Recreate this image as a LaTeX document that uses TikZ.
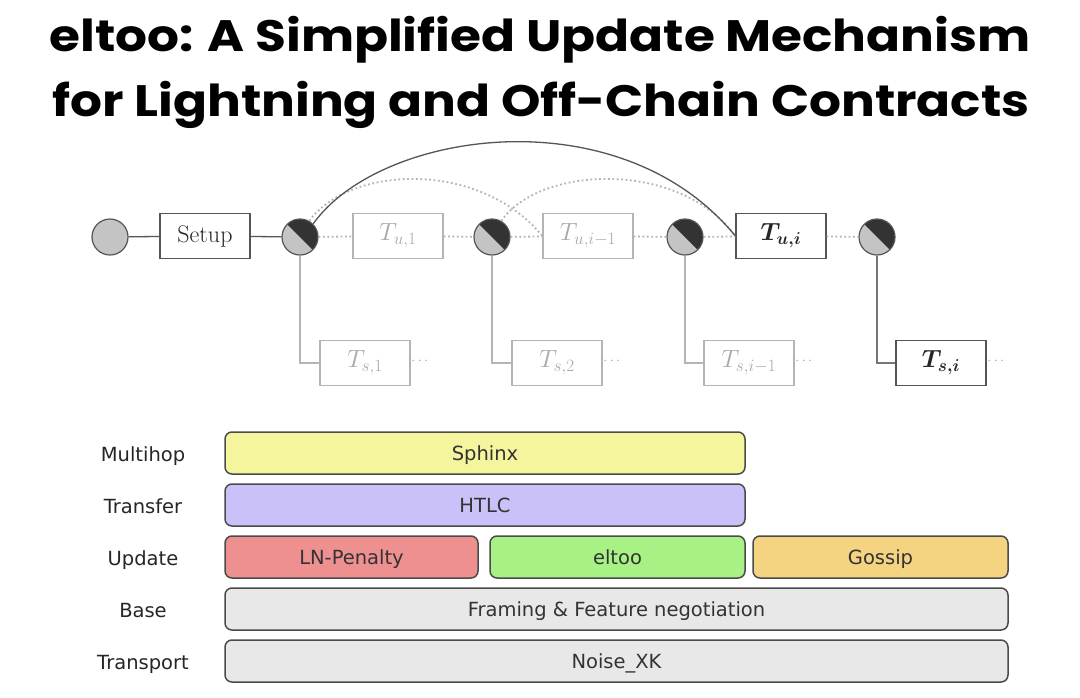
\documentclass[tikz,border=0pt]{standalone}
\usepackage{amsmath}
\usepackage{fontspec}
\newfontfamily\titlefont{Poppins}[UprightFont=* Bold, FakeStretch=1.14]
\newfontfamily\layerfont{DejaVu Sans}
\definecolor{lightline}{HTML}{B4B4B4}
\definecolor{lighttext}{HTML}{A8A8A8}
\definecolor{darkline}{HTML}{555555}
\definecolor{circfill}{HTML}{C4C4C4}
\definecolor{circdark}{HTML}{333333}
\definecolor{cyellow}{HTML}{F4F59C}
\definecolor{cviolet}{HTML}{C9C1F7}
\definecolor{cred}{HTML}{EE9090}
\definecolor{cgreen}{HTML}{A8F285}
\definecolor{corange}{HTML}{F4D381}
\definecolor{cgray}{HTML}{E8E8E8}
\definecolor{layerborder}{HTML}{4A4A4A}
\definecolor{layertext}{HTML}{333333}
\begin{document}
\begin{tikzpicture}[x=1pt,y=-1pt,
  txbox/.style={draw=darkline, line width=1.3pt, minimum width=90pt, minimum height=45pt, inner sep=0pt, font=\fontsize{24}{28}\selectfont, text=black!85},
  txlight/.style={txbox, draw=lightline, text=lighttext},
  plaincirc/.style={circle, draw=darkline, line width=1.2pt, fill=circfill, minimum size=36pt, inner sep=0pt},
  splitcirc/.style={plaincirc, path picture={\fill[circdark] (path picture bounding box.north west) -- (path picture bounding box.north east) -- (path picture bounding box.south east) -- cycle;}},
  solidcon/.style={draw=darkline, line width=1.3pt},
  lightcon/.style={draw=lightline, line width=1.3pt},
  dotcon/.style={draw=lightline, line width=1.8pt, dash pattern=on 1.8pt off 2.6pt},
  dots/.style={text=lighttext, font=\fontsize{14}{16}\selectfont},
  layer/.style={draw=layerborder, line width=1.5pt, rounded corners=7pt, minimum height=42pt, inner sep=0pt, text height=17pt, text depth=3pt, font=\layerfont\fontsize{19.5}{22}\selectfont, text=layertext},
  layerlabel/.style={text height=17pt, text depth=3pt, font=\layerfont\fontsize{19.5}{22}\selectfont, text=black!85}
]
\useasboundingbox (0,0) rectangle (1080,697);
\fill[white] (0,0) rectangle (1080,697);

% title
\node (title1) at (540,40) {\titlefont\fontsize{44}{52}\selectfont eltoo: A Simplified Update Mechanism};
\node (title2) at (541,105) {\titlefont\fontsize{44}{52}\selectfont for Lightning and Off-Chain Contracts};

% top chain
\node[plaincirc] (c0) at (110,237) {};
\node[txbox] (setup) at (205,236) {Setup};
\node[splitcirc] (c1) at (300,237) {};
\node[txlight] (tu1) at (398,236) {$T_{u,1}$};
\node[splitcirc] (c2) at (492,237) {};
\node[txlight] (tui1) at (588,236) {$T_{u,i-1}$};
\node[splitcirc] (c3) at (685,237) {};
\node[txbox] (tui) at (781,236) {$\boldsymbol{T_{u,i}}$};
\node[splitcirc] (c4) at (877,237) {};

\node[txlight] (ts1) at (365,363) {$T_{s,1}$};
\node[txlight] (ts2) at (557,363) {$T_{s,2}$};
\node[txlight] (tsi1) at (749,363) {$T_{s,i-1}$};
\node[txbox] (tsi) at (941,363) {$\boldsymbol{T_{s,i}}$};
\node[dots] (d1) at (421,361) {$\cdots$};
\node[dots] (d2) at (613,361) {$\cdots$};
\node[dots] (d3) at (805,361) {$\cdots$};
\node[dots] (d4) at (997,361) {$\cdots$};

\draw[solidcon] (c0) -- (setup);
\draw[solidcon] (setup) -- (c1);
\draw[dotcon] (c1) -- (tu1);
\draw[dotcon] (tu1) -- (c2);
\draw[dotcon] (c2) -- (tui1);
\draw[dotcon] (tui1) -- (c3);
\draw[dotcon] (c3) -- (tui);
\draw[dotcon] (tui) -- (c4);

\draw[lightcon] (c1.south) |- (ts1.west);
\draw[lightcon] (c2.south) |- (ts2.west);
\draw[lightcon] (c3.south) |- (tsi1.west);
\draw[solidcon, draw=darkline!80] (c4.south) |- (tsi.west);

% arcs
\draw[dotcon] (c1.60) .. controls (350,165) and (480,160) .. (tui1.west);
\draw[dotcon] (c2.60) .. controls (540,165) and (680,160) .. (tui.west);
\draw[solidcon] (c1.45) .. controls (380,130) and (620,95) .. (tui.west);

% layers
\node[layerlabel] (lmh) at (143,454) {Multihop};
\node[layerlabel] (ltr) at (143,506) {Transfer};
\node[layerlabel] (lup) at (143,558) {Update};
\node[layerlabel] (lba) at (143,610) {Base};
\node[layerlabel] (ltp) at (143,662) {Transport};

\node[layer, fill=cyellow, minimum width=520pt] (sphinx) at (485,453) {Sphinx};
\node[layer, fill=cviolet, minimum width=520pt] (htlc) at (485,505) {HTLC};
\node[layer, fill=cred, minimum width=253pt] (lnp) at (351.5,557) {LN-Penalty};
\node[layer, fill=cgreen, minimum width=255pt] (eltoo) at (617.5,557) {eltoo};
\node[layer, fill=corange, minimum width=255pt] (gossip) at (880.5,557) {Gossip};
\node[layer, fill=cgray, minimum width=783pt] (framing) at (616.5,609) {Framing \& Feature negotiation};
\node[layer, fill=cgray, minimum width=783pt] (noise) at (616.5,661) {Noise\_XK};
\end{tikzpicture}
\end{document}
